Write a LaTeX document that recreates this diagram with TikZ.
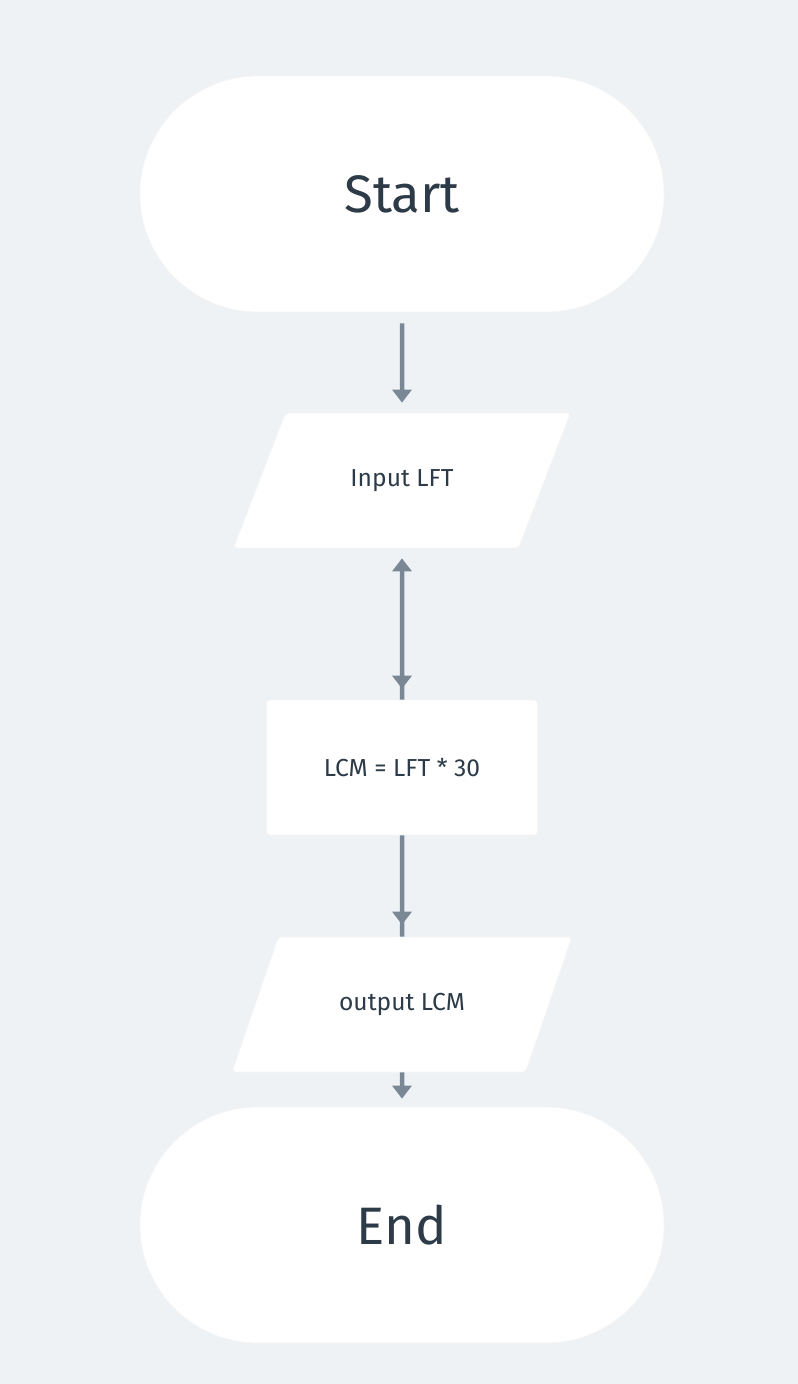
\documentclass[tikz,border=0pt]{standalone}
\usepackage{fontspec}
\setmainfont{Fira Sans}
\usetikzlibrary{arrows.meta,positioning,shapes.geometric,shapes.misc,decorations.markings}
\definecolor{bgcol}{HTML}{EEF2F5}
\definecolor{linkgray}{HTML}{7A8896}
\definecolor{inkdark}{HTML}{2D3B48}
\tikzset{
  term/.style={rounded rectangle, fill=white, draw=black!4, minimum width=10.72cm, minimum height=4.72cm, font=\fontsize{30}{36}\selectfont, text=inkdark},
  io/.style={trapezium, trapezium left angle=53, trapezium right angle=127, trapezium stretches=true, rounded corners=2pt, fill=white, draw=black!4, minimum width=6.8cm, minimum height=2.7cm, font=\fontsize{14}{17}\selectfont, text=inkdark},
  proc/.style={rectangle, rounded corners=2pt, fill=white, draw=black!4, minimum width=5.42cm, minimum height=2.7cm, font=\fontsize{14}{17}\selectfont, text=inkdark},
  edge/.style={-{Triangle[width=0.38cm,length=0.26cm]}, line width=0.09cm, draw=linkgray},
  midtip/.style={postaction={decorate}, decoration={markings, mark=at position #1 with {\arrow[linkgray]{Triangle[width=0.38cm,length=0.26cm]}}}}
}
\begin{document}
\begin{tikzpicture}[x=0.02cm, y=-0.02cm]
  % page background
  \fill[bgcol] (0,0) rectangle (798,1384);

  % flow nodes
  \node[term] (start)  at (402,194)  {Start};
  \node[io]   (input)  at (402,480.5) {Input LFT};
  \node[proc] (lcm)    at (402,767.5) {LCM = LFT * 30};
  \node[io]   (output) at (402,1004.5) {output LCM};
  \node[term] (end)    at (402,1225) {End};

  % connectors
  \draw[edge, shorten <=0.22cm, shorten >=0.2cm] (start) -- (input);
  \draw[edge, {Triangle[width=0.38cm,length=0.26cm]}-, shorten <=0.2cm, midtip=-0.22cm] (input) -- (lcm);
  \draw[edge, -, midtip=-0.24cm] (lcm) -- (output);
  \draw[edge, shorten >=0.16cm] (output) -- (end);
\end{tikzpicture}
\end{document}
